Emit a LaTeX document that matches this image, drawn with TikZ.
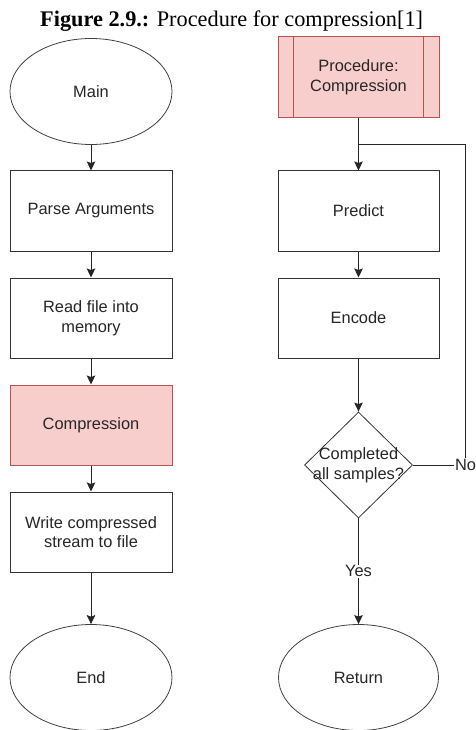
\documentclass[tikz,border=0pt]{standalone}
\usepackage{fontspec}
\setmainfont{Liberation Sans}
\newfontfamily\titlefont{Liberation Serif}
\usetikzlibrary{shapes.geometric,arrows.meta}

\begin{document}
\begin{tikzpicture}[x=1pt,y=-1pt,
  every node/.style={font=\fontsize{16.4}{19.7}\selectfont, text=black!85},
  boxstyle/.style={draw=black!80, line width=1pt, rectangle, minimum width=162pt,
    minimum height=80pt, align=center, inner sep=0pt, fill=white},
  pinkbox/.style={boxstyle, draw={rgb,255:red,184;green,84;blue,80}, fill={rgb,255:red,248;green,206;blue,204}},
  ovalstyle/.style={draw=black!75, line width=0.8pt, ellipse, minimum width=162pt,
    minimum height=106pt, inner sep=0pt},
  decstyle/.style={draw=black!80, line width=0.8pt, diamond, minimum width=108pt,
    minimum height=106pt, inner sep=0pt},
  arr/.style={draw=black!85, line width=1pt, -{Stealth[length=9pt,width=8.5pt,inset=1.5pt]}},
  link/.style={draw=black!85, line width=1pt},
  edgelabel/.style={fill=white, inner sep=1pt}]

\useasboundingbox (0,0) rectangle (475,730);

% caption
\node[anchor=base west, inner sep=0pt, font=\titlefont\fontsize{22.3}{26}\selectfont, text=black] (title) at (40,26.7)
  {\textbf{Figure 2.9.:} Procedure for compression[1]};

% main program
\node[ovalstyle] (main) at (91,91.5) {Main};
\node[boxstyle] (parse) at (91,211) {Parse Arguments};
\node[boxstyle] (read) at (91,318) {Read file into\\memory};
\node[pinkbox] (comp) at (91,425) {Compression};
\node[boxstyle] (write) at (91,532) {Write compressed\\stream to file};
\node[ovalstyle] (endn) at (91,677.5) {End};

\draw[arr] (main) -- (parse);
\draw[arr] (parse) -- (read);
\draw[arr] (read) -- (comp);
\draw[arr] (comp) -- (write);
\draw[arr] (write) -- (endn);

% compression procedure
\node[pinkbox, minimum width=161pt, minimum height=81pt] (proc) at (358.5,77.5) {Procedure:\\Compression};
\draw[draw={rgb,255:red,184;green,84;blue,80}, line width=1pt]
  ([xshift=16pt]proc.north west) -- ([xshift=16pt]proc.south west)
  ([xshift=-16pt]proc.north east) -- ([xshift=-16pt]proc.south east);
\node[boxstyle, minimum width=161pt] (pred) at (358.5,211) {Predict};
\node[boxstyle, minimum width=161pt] (enc) at (358.5,318) {Encode};
% the decision keeps its fixed size; its text may run over the edges
\node[decstyle] (dec) at (358.5,465) {};
\node[align=center, inner sep=0pt] (dectext) at (dec.center) {Completed\\all samples?};
\node[ovalstyle, minimum width=160pt] (ret) at (358.5,677.5) {Return};

\coordinate (join) at (358.5,145);
\coordinate (loopc) at (465,145);

\draw[arr] (proc) -- (pred);
\draw[arr] (pred) -- (enc);
\draw[arr] (enc) -- (dec);
\draw[link] (dec.east) -| (loopc) -- (join);
\node[edgelabel] (nolabel) at (465.5,465) {No};
\draw[arr] (dec) -- node[edgelabel] (yeslabel) {Yes} (ret);

\end{tikzpicture}
\end{document}
